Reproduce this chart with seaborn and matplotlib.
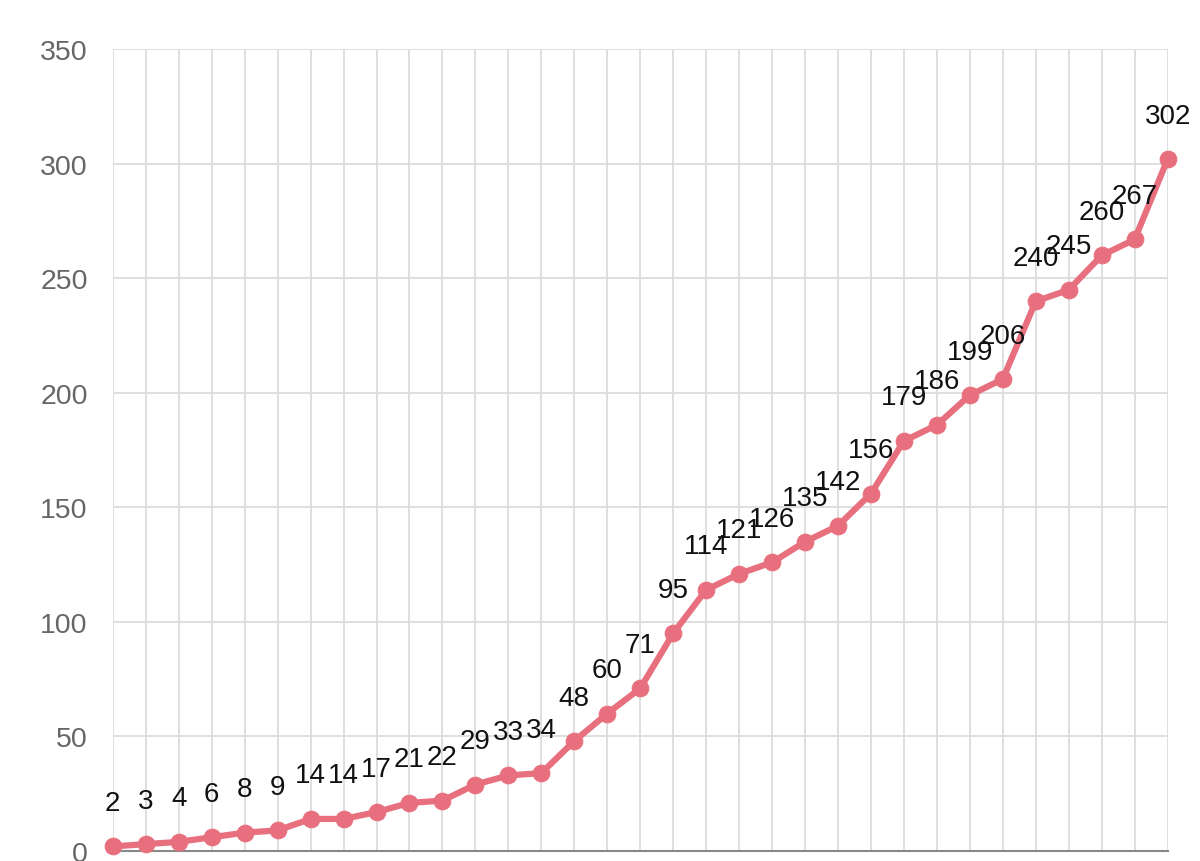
import matplotlib
matplotlib.use("Agg")
import matplotlib.pyplot as plt
import pandas as pd
import seaborn as sns

# cumulative counts, one per day (no x labels shown on the chart)
counts = [2, 3, 4, 6, 8, 9, 14, 14, 17, 21, 22, 29, 33, 34, 48, 60, 71, 95,
          114, 121, 126, 135, 142, 156, 179, 186, 199, 206, 240, 245, 260, 267, 302]
y_ticks = [0, 50, 100, 150, 200, 250, 300, 350]

LINE = "#e8707e"
GRID = "#dcdcdc"

df = pd.DataFrame({"day": range(len(counts)), "count": counts})

sns.set_style("white")
plt.rcParams["font.family"] = ["Liberation Sans", "DejaVu Sans"]

fig = plt.figure(figsize=(12, 8.62), dpi=100)
ax = fig.add_axes([0.094, 0.0116, 0.879, 0.930])

sns.lineplot(data=df, x="day", y="count", ax=ax, color=LINE, linewidth=4.5,
             marker="o", markersize=12, markeredgecolor=LINE, zorder=3)

for x, y in zip(df["day"], df["count"]):
    ax.annotate(str(y), (x, y), xytext=(0, 22), textcoords="offset points",
                ha="center", va="bottom", fontsize=20, color="#111111")

ax.set_xlim(0, len(counts) - 1)
ax.set_ylim(0, 350)
ax.set_xticks(df["day"])
ax.set_yticks(y_ticks)
ax.set_xticklabels([])
ax.set_yticklabels([str(t) for t in y_ticks])
ax.set_xlabel("")
ax.set_ylabel("")

ax.grid(True, color=GRID, linewidth=1.3)
ax.set_axisbelow(True)
ax.tick_params(axis="y", length=14, width=1.3, color=GRID, labelsize=20.5,
               labelcolor="#666666", pad=4)
ax.tick_params(axis="x", length=0)
for side in ["left", "right", "top"]:
    ax.spines[side].set_visible(False)
ax.spines["bottom"].set_color("#888888")
ax.spines["bottom"].set_linewidth(1.5)
for line in ax.lines:
    line.set_clip_on(False)

fig.savefig("out.png", dpi=100)
